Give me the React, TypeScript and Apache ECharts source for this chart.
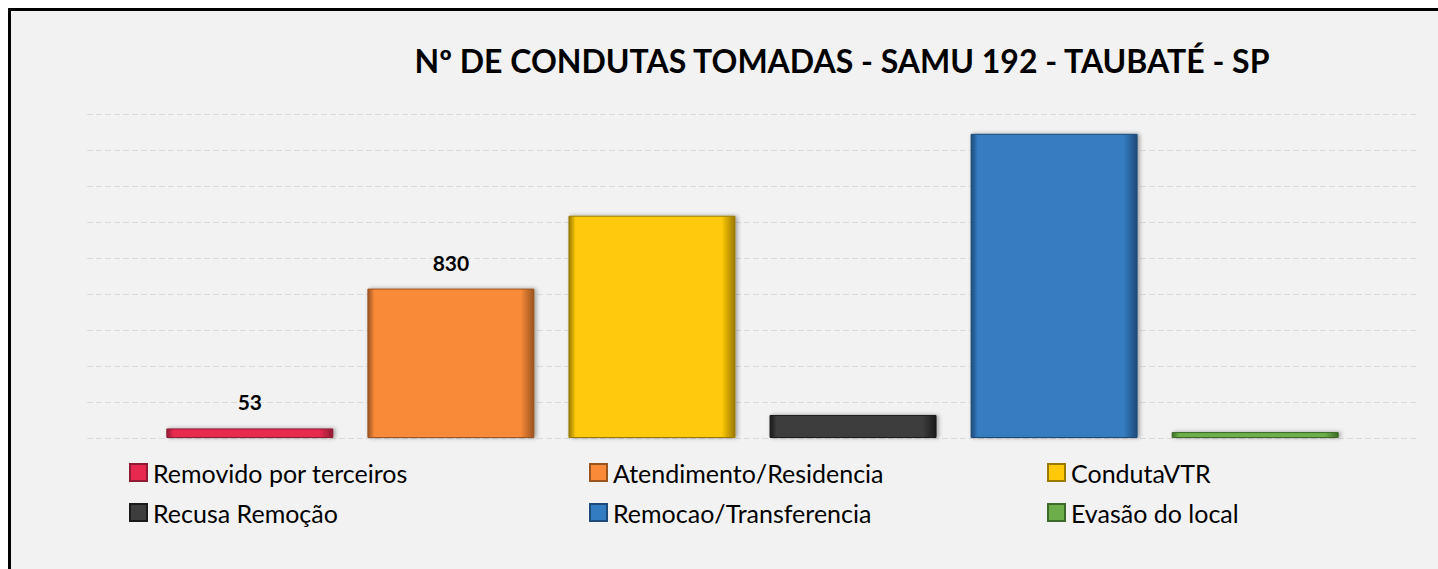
import React, { useEffect, useRef } from "react";
import * as echarts from "echarts";

const titleText = "Nº DE CONDUTAS TOMADAS - SAMU 192 - TAUBATÉ - SP";
const category = [""];
const seriesNames = [
  "Removido por terceiros",
  "Atendimento/Residencia",
  "CondutaVTR",
  "Recusa Remoção",
  "Remocao/Transferencia",
  "Evasão do local",
];
const seriesValues = [53, 830, 1235, 128, 1690, 33];
const showLabel = [true, true, false, false, false, false];
const colors = ["#e8294f", "#f98a38", "#ffc907", "#3d3d3d", "#347cc1", "#6caf4a"];
const borderColors = ["#8e1a33", "#9a5420", "#9a7a00", "#1a1a1a", "#1d4a78", "#3c6a28"];

export default function App() {
  const ref = useRef<HTMLDivElement>(null);
  useEffect(() => {
    if (!ref.current) return;
    const chart = echarts.init(ref.current, null, { renderer: "svg" });
    const font = "Lato, 'Open Sans', sans-serif";
    const series = seriesNames.map((name, i) => ({
      type: "bar",
      name,
      data: [seriesValues[i]],
      barWidth: 167,
      barGap: "20.4%",
      itemStyle: {
        color: {
          type: "linear",
          x: 0, y: 0, x2: 1, y2: 0,
          colorStops: [
            { offset: 0, color: borderColors[i] },
            { offset: 0.04, color: colors[i] },
            { offset: 0.92, color: colors[i] },
            { offset: 1, color: borderColors[i] },
          ],
        },
        borderColor: borderColors[i],
        borderWidth: 1,
        shadowColor: "rgba(0,0,0,0.35)",
        shadowBlur: 4,
        shadowOffsetX: 2,
      },
      label: {
        show: showLabel[i],
        position: "top",
        distance: 16,
        color: "#000",
        fontFamily: font,
        fontWeight: "bold",
        fontSize: 21,
      },
    }));
    const legendCols = [
      [seriesNames[0], seriesNames[3]],
      [seriesNames[1], seriesNames[4]],
      [seriesNames[2], seriesNames[5]],
    ];
    const legendLefts = [129, 589, 1047];
    chart.setOption({
      animation: false,
      backgroundColor: "transparent",
      color: colors,
      title: {
        text: titleText,
        left: 837,
        textAlign: "center",
        top: 39,
        textStyle: { fontFamily: font, fontWeight: "bold", fontSize: 32, color: "#000" },
      },
      legend: legendCols.map((data, k) => ({
        data,
        orient: "vertical",
        left: legendLefts[k],
        top: 460,
        padding: 0,
        itemGap: 15,
        itemWidth: 17,
        itemHeight: 17,
        icon: "rect",
        textStyle: { fontFamily: font, fontSize: 25, lineHeight: 25, color: "#000", padding: [0, 0, 0, 1] },
      })),
      grid: { left: 87, right: 20, top: 114, bottom: 131 },
      xAxis: {
        type: "category",
        data: category,
        axisLine: { show: false },
        axisTick: { show: false },
        axisLabel: { show: false },
      },
      yAxis: {
        type: "value",
        min: 0,
        max: 1800,
        interval: 200,
        axisLabel: { show: false },
        axisLine: { show: false },
        axisTick: { show: false },
        splitLine: { show: true, lineStyle: { color: "#d9d9d9", type: [6, 3], width: 1 } },
      },
      series,
    });
    return () => chart.dispose();
  }, []);
  return (
    <div style={{ position: "fixed", left: 0, top: 0, width: 1438, height: 569, overflow: "hidden", background: "#fff" }}>
      <div style={{ position: "absolute", left: 8, top: 8, width: 1500, height: 600, background: "#f2f2f2" }} />
      <div style={{ position: "absolute", left: 8, top: 8, width: 3, height: 600, background: "#000" }} />
      <div style={{ position: "absolute", left: 8, top: 8, width: 1500, height: 3, background: "#000" }} />
      <div ref={ref} style={{ position: "absolute", left: 0, top: 0, width: 1438, height: 569 }} />
    </div>
  );
}
